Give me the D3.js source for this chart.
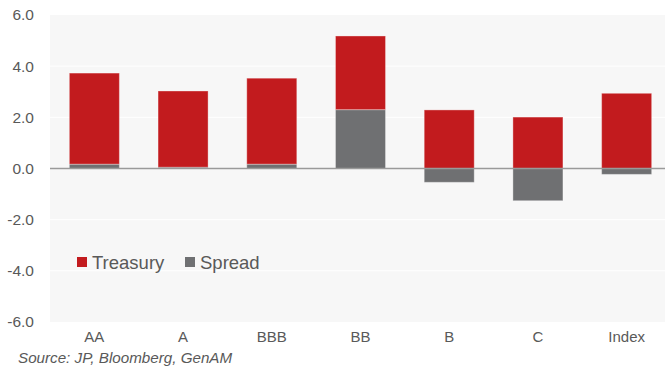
<!DOCTYPE html>
<html>
<head>
<meta charset="utf-8">
<script src="https://cdn.jsdelivr.net/npm/d3@7"></script>
<style>
  html, body { margin: 0; padding: 0; background: #fff; }
  svg { display: block; font-family: "Liberation Sans", Arial, sans-serif; }
</style>
</head>
<body>
<div id="chart"></div>
<script>
// data
const categories = ['AA', 'A', 'BBB', 'BB', 'B', 'C', 'Index'];
const treasury = [3.56, 2.98, 3.36, 2.88, 2.29, 2.01, 2.94];
const spread = [0.17, 0.05, 0.17, 2.30, -0.54, -1.26, -0.23];
const yTicks = [-6, -4, -2, 0, 2, 4, 6];
const seriesNames = ['Treasury', 'Spread'];

const width = 665, height = 367;
const plotLeft = 50, plotRight = 671, plotTop = 15, plotBottom = 322;
const colors = { treasury: '#c21b1e', spread: '#6f7072' };
const textColor = '#595959';

const rows = categories.map((c, i) => ({ cat: c, treasury: treasury[i], spread: spread[i] }));

const x = d3.scaleBand(categories, [plotLeft, plotRight]).paddingInner(0.436).paddingOuter(0.218);
const y = d3.scaleLinear([-6, 6], [plotBottom, plotTop]);

const svg = d3.select('#chart').append('svg')
  .attr('width', width)
  .attr('height', height);

// plot background
svg.append('rect')
  .attr('x', plotLeft).attr('y', plotTop)
  .attr('width', plotRight - plotLeft).attr('height', plotBottom - plotTop)
  .attr('fill', '#f7f7f7');

// gridlines
svg.append('g')
  .selectAll('line')
  .data(yTicks.filter(t => t !== 0 && t !== -6 && t !== 6))
  .join('line')
  .attr('x1', plotLeft).attr('x2', plotRight)
  .attr('y1', d => y(d)).attr('y2', d => y(d))
  .attr('stroke', '#fff').attr('stroke-width', 1);

// y axis labels (plain hyphen for negatives, like the original)
const yAxis = d3.axisLeft(y)
  .tickValues(yTicks)
  .tickFormat(d => d.toFixed(1))
  .tickSize(0)
  .tickPadding(16);
svg.append('g')
  .attr('transform', `translate(${plotLeft},0)`)
  .call(yAxis)
  .call(g => g.select('.domain').remove())
  .call(g => g.selectAll('text')
    .attr('fill', textColor)
    .attr('font-size', 15.5)
    .attr('font-family', '"Liberation Sans", Arial, sans-serif'));

// stacked bars
const stacked = d3.stack()
  .keys(['spread', 'treasury'])
  .offset(d3.stackOffsetDiverging)(rows);

svg.append('g')
  .selectAll('g')
  .data(stacked)
  .join('g')
  .attr('fill', d => colors[d.key])
  .selectAll('rect')
  .data(d => d)
  .join('rect')
  .attr('x', d => x(d.data.cat))
  .attr('y', d => y(Math.max(d[0], d[1])))
  .attr('width', x.bandwidth())
  .attr('height', d => Math.abs(y(d[0]) - y(d[1])))
  .attr('stroke', '#ffffff')
  .attr('stroke-opacity', 0.35)
  .attr('stroke-width', 1);

// zero line
svg.append('line')
  .attr('x1', plotLeft).attr('x2', plotRight)
  .attr('y1', y(0)).attr('y2', y(0))
  .attr('stroke', '#9a9a9a').attr('stroke-width', 1.5);

// x axis labels
const xAxis = d3.axisBottom(x).tickSize(0).tickPadding(9);
svg.append('g')
  .attr('transform', `translate(0,${plotBottom})`)
  .call(xAxis)
  .call(g => g.select('.domain').remove())
  .call(g => g.selectAll('text')
    .attr('fill', textColor)
    .attr('font-size', 15)
    .attr('font-family', '"Liberation Sans", Arial, sans-serif'));

// legend
const legend = svg.append('g').attr('transform', 'translate(77,257)');
const legendColors = [colors.treasury, colors.spread];
const legendX = [0, 108];
seriesNames.forEach((name, i) => {
  const g = legend.append('g').attr('transform', `translate(${legendX[i]},0)`);
  g.append('rect').attr('width', 10).attr('height', 10).attr('fill', legendColors[i]);
  g.append('text')
    .attr('x', 15).attr('y', 12)
    .attr('fill', textColor)
    .attr('font-size', 18.5)
    .text(name);
});

// source
svg.append('text')
  .attr('x', 18).attr('y', 363)
  .attr('fill', textColor)
  .attr('font-size', 15.2)
  .attr('font-style', 'italic')
  .text('Source: JP, Bloomberg, GenAM');
</script>
</body>
</html>
